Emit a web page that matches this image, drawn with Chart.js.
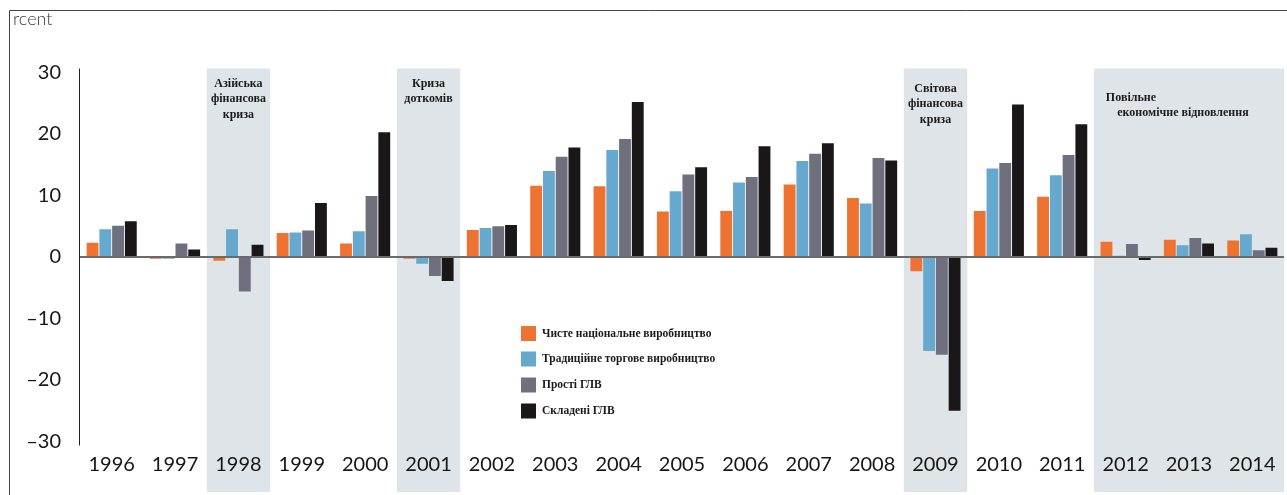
<!DOCTYPE html>
<html>
<head>
<meta charset="utf-8">
<script src="https://cdn.jsdelivr.net/npm/chart.js@4/dist/chart.umd.min.js"></script>
<style>
  html, body { margin: 0; padding: 0; background: #fff; }
  #wrap { position: relative; width: 1287px; height: 495px; }
</style>
</head>
<body>
<div id="wrap"><canvas id="c"></canvas></div>
<script>
// Annual growth, per cent
const years = ['1996','1997','1998','1999','2000','2001','2002','2003','2004','2005',
               '2006','2007','2008','2009','2010','2011','2012','2013','2014'];
const netNational  = [2.3, -0.3, -0.6, 3.9, 2.2, -0.3, 4.4, 11.6, 11.5, 7.4, 7.5, 11.8, 9.6, -2.3, 7.5, 9.8, 2.5, 2.8, 2.7];
const traditional  = [4.5, -0.3, 4.5, 4.0, 4.2, -1.1, 4.7, 14.0, 17.4, 10.7, 12.1, 15.6, 8.7, -15.3, 14.4, 13.3, 0.2, 1.9, 3.7];
const simpleGVC    = [5.1, 2.2, -5.6, 4.3, 9.9, -3.1, 5.0, 16.3, 19.2, 13.4, 13.0, 16.8, 16.1, -15.9, 15.3, 16.6, 2.1, 3.1, 1.1];
const complexGVC   = [5.8, 1.2, 2.0, 8.8, 20.3, -3.9, 5.2, 17.8, 25.2, 14.6, 18.0, 18.5, 15.7, -25.0, 24.8, 21.6, -0.5, 2.2, 1.5];
const seriesNames  = ['Чисте національне виробництво', 'Традиційне торгове виробництво', 'Прості ГЛВ', 'Складені ГЛВ'];
const yTicks       = [-30, -20, -10, 0, 10, 20, 30];

// Shaded periods (first year, last year, caption lines)
const periodFrom   = ['1998', '2001', '2009', '2012'];
const periodTo     = ['1998', '2001', '2009', '2014'];
const periodText   = [
  ['Азійська', 'фінансова', 'криза'],
  ['Криза', 'доткомів'],
  ['Світова', 'фінансова', 'криза'],
  ['Повільне', 'економічне відновлення']
];

const colors = ['#EE7330', '#67A8CE', '#706F7E', '#1A1718'];
const captionTop = [11, 11, 16, 25];       // first caption line below plot top
const captionShift = [[0,0,0],[0,0],[0,0,0],[-58,-6]];

const periodsPlugin = {
  id: 'periods',
  beforeDraw(chart) {
    const { ctx, chartArea, scales: { x } } = chart;
    const half = (x.getPixelForValue(1) - x.getPixelForValue(0)) / 2;
    ctx.save();
    // outer frame
    ctx.strokeStyle = '#444';
    ctx.lineWidth = 1;
    ctx.beginPath();
    ctx.moveTo(9.5, chart.height);
    ctx.lineTo(9.5, 10.5);
    ctx.lineTo(chart.width, 10.5);
    ctx.stroke();
    ctx.fillStyle = '#3a3a3a';
    ctx.font = '300 18px Lato, "DejaVu Sans", sans-serif';
    ctx.textAlign = 'left';
    ctx.textBaseline = 'top';
    ctx.fillText('rcent', 13, 10);
    // shaded periods
    ctx.fillStyle = '#DEE4E8';
    periodFrom.forEach((f, i) => {
      const a = x.getPixelForValue(years.indexOf(f)) - half;
      const b = x.getPixelForValue(years.indexOf(periodTo[i])) + half;
      ctx.fillRect(a, chartArea.top - 4, b - a, chart.height - 3 - (chartArea.top - 4));
    });
    ctx.restore();
  },
  afterDatasetsDraw(chart) {
    const { ctx, chartArea, scales: { x } } = chart;
    const half = (x.getPixelForValue(1) - x.getPixelForValue(0)) / 2;
    ctx.save();
    // value axis line, running a little past the outer ticks
    ctx.strokeStyle = '#222';
    ctx.lineWidth = 1;
    ctx.beginPath();
    ctx.moveTo(chartArea.left - 0.5, chartArea.top - 4);
    ctx.lineTo(chartArea.left - 0.5, chartArea.bottom + 4);
    ctx.stroke();
    ctx.fillStyle = '#1b1b1b';
    ctx.font = 'bold 12px "Liberation Serif", "DejaVu Serif", serif';
    ctx.textAlign = 'center';
    ctx.textBaseline = 'middle';
    periodFrom.forEach((f, i) => {
      const a = x.getPixelForValue(years.indexOf(f)) - half;
      const b = x.getPixelForValue(years.indexOf(periodTo[i])) + half;
      const cx = (a + b) / 2;
      periodText[i].forEach((line, j) => {
        ctx.fillText(line, cx + captionShift[i][j], chartArea.top + captionTop[i] + j * 15.5);
      });
    });
    // legend block
    const lx = 521, ly = [333.5, 359, 385, 411];
    ctx.textAlign = 'left';
    ctx.font = 'bold 11.5px "Liberation Serif", "DejaVu Serif", serif';
    chart.data.datasets.forEach((ds, i) => {
      ctx.fillStyle = ds.backgroundColor;
      ctx.fillRect(lx, ly[i] - 7.5, 15, 15);
      ctx.fillStyle = '#1b1b1b';
      ctx.fillText(ds.label, lx + 21, ly[i] + 0.5);
    });
    ctx.restore();
  }
};

new Chart(document.getElementById('c'), {
  type: 'bar',
  data: {
    labels: years,
    datasets: [netNational, traditional, simpleGVC, complexGVC].map((d, i) => ({
      label: seriesNames[i],
      data: d,
      backgroundColor: colors[i],
      borderWidth: 0,
      categoryPercentage: 0.805,
      barPercentage: 0.93
    }))
  },
  options: {
    responsive: true,
    maintainAspectRatio: false,
    animation: false,
    layout: { padding: { top: 72.5, right: 3, bottom: 0, left: 0 } },
    plugins: { legend: { display: false }, tooltip: { enabled: false } },
    scales: {
      x: {
        grid: { display: false, drawTicks: false },
        border: { display: false },
        ticks: {
          padding: 11,
          color: '#161616',
          font: { family: 'Lato', size: 20, weight: '400' },
          maxRotation: 0, autoSkip: false
        },
        afterFit(scale) { scale.height = 53.5; }
      },
      y: {
        min: yTicks[0],
        max: yTicks[yTicks.length - 1],
        afterBuildTicks(scale) { scale.ticks = yTicks.map(v => ({ value: v })); },
        grid: {
          drawTicks: false,
          color: c => (c.tick && c.tick.value === 0) ? '#6a6a6a' : 'rgba(0,0,0,0)',
          lineWidth: c => (c.tick && c.tick.value === 0) ? 2 : 0
        },
        border: { display: false },
        ticks: {
          padding: 19,
          color: '#161616',
          font: { family: 'Lato', size: 20, weight: '400' },
          callback: v => v < 0 ? '\u2013' + Math.abs(v) : String(v)
        },
        afterFit(scale) { scale.width = 80; }
      }
    }
  },
  plugins: [periodsPlugin]
});
</script>
</body>
</html>
